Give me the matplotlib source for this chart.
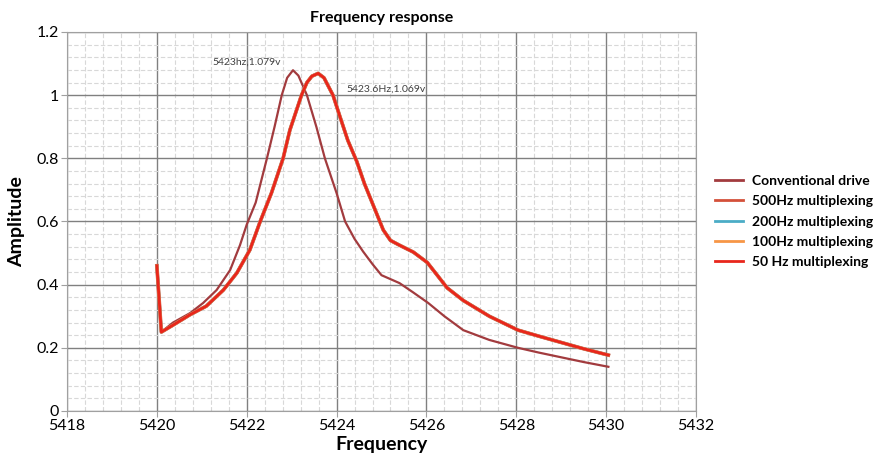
import matplotlib
matplotlib.use("Agg")
from matplotlib import pyplot as plt
from matplotlib.ticker import MultipleLocator

# conventional drive curve
conv_f = [5420.0, 5420.1, 5420.36, 5420.74, 5421.03, 5421.33, 5421.63, 5421.85, 5422.0,
          5422.2, 5422.45, 5422.62, 5422.78, 5422.9, 5423.03, 5423.15, 5423.34, 5423.55,
          5423.74, 5424.0, 5424.19, 5424.4, 5424.59, 5424.8, 5425.0, 5425.4, 5425.71,
          5426.04, 5426.4, 5426.82, 5427.4, 5428.04, 5428.5, 5429.0, 5429.5, 5430.05]
conv_a = [0.46, 0.25, 0.28, 0.31, 0.342, 0.383, 0.446, 0.525, 0.59,
          0.66, 0.80, 0.90, 1.0, 1.055, 1.079, 1.062, 1.0, 0.90,
          0.80, 0.69, 0.60, 0.545, 0.505, 0.465, 0.43, 0.405, 0.375,
          0.342, 0.30, 0.256, 0.225, 0.20, 0.185, 0.17, 0.155, 0.14]

# multiplexing curves all sit on top of each other
mux_f = [5420.0, 5420.1, 5420.36, 5420.74, 5421.1, 5421.48, 5421.78, 5422.07, 5422.3,
         5422.55, 5422.81, 5422.96, 5423.22, 5423.34, 5423.45, 5423.59, 5423.72, 5423.92,
         5424.08, 5424.25, 5424.45, 5424.62, 5424.82, 5425.04, 5425.2, 5425.4, 5425.71,
         5426.02, 5426.46, 5426.82, 5427.4, 5428.04, 5428.5, 5429.05, 5429.5, 5430.05]
mux500 = [0.46, 0.25, 0.272, 0.305, 0.332, 0.383, 0.437, 0.51, 0.60,
          0.69, 0.80, 0.889, 1.0, 1.04, 1.06, 1.069, 1.055, 1.0,
          0.93, 0.857, 0.79, 0.72, 0.65, 0.573, 0.54, 0.525, 0.503,
          0.47, 0.39, 0.35, 0.30, 0.256, 0.237, 0.215, 0.197, 0.177]
mux200 = list(mux500)
mux100 = list(mux500)
mux50 = list(mux500)

labels = ["Conventional drive", "500Hz multiplexing", "200Hz multiplexing",
          "100Hz multiplexing", "50 Hz multiplexing"]
colors = ["#A23B3E", "#D4503A", "#4BACC6", "#F79646", "#E8261C"]

plt.rcParams['font.family'] = ['Lato', 'DejaVu Sans']

fig = plt.figure(figsize=(8.79, 4.62), dpi=100)
ax = fig.add_axes([67 / 879, 51 / 462, 629 / 879, 379 / 462])

ax.plot(conv_f, conv_a, color=colors[0], lw=1.6, label=labels[0])
ax.plot(mux_f, mux500, color=colors[1], lw=2.6, label=labels[1])
ax.plot(mux_f, mux200, color=colors[2], lw=2.2, label=labels[2])
ax.plot(mux_f, mux100, color=colors[3], lw=2.2, label=labels[3])
ax.plot(mux_f, mux50, color=colors[4], lw=2.0, label=labels[4])

ax.set_xlim(5418, 5432)
ax.set_ylim(0, 1.2)
ax.xaxis.set_major_locator(MultipleLocator(2))
ax.xaxis.set_minor_locator(MultipleLocator(0.4))
ax.yaxis.set_major_locator(MultipleLocator(0.2))
ax.yaxis.set_minor_locator(MultipleLocator(0.04))
ax.set_yticks([0, 0.2, 0.4, 0.6, 0.8, 1.0, 1.2], ["0", "0.2", "0.4", "0.6", "0.8", "1", "1.2"])

ax.grid(which="major", color="#808080", lw=1.0)
ax.grid(which="minor", color="#d8d8d8", lw=0.8, ls=(0, (4, 2)))
ax.set_axisbelow(True)
for s in ax.spines.values():
    s.set_color("#a0a0a0")
ax.tick_params(which="major", length=4, color="#a0a0a0", labelsize=11.5, pad=2)
ax.tick_params(which="minor", length=0)

ax.set_title("Frequency response", fontsize=11.5, fontweight="bold", pad=7)
ax.set_xlabel("Frequency", fontsize=14, fontweight="bold", labelpad=2)
ax.set_ylabel("Amplitude", fontsize=14, fontweight="bold", labelpad=8)

ax.text(5421.23, 1.105, "5423hz,1.079v", fontsize=7.5, color="#404040", va="center")
ax.text(5424.21, 1.02, "5423.6Hz,1.069v", fontsize=7.5, color="#404040", va="center")

leg = ax.legend(loc="center left", bbox_to_anchor=(1.0, 0.5), frameon=False,
                handlelength=2.0, handletextpad=0.6, borderaxespad=1.0,
                prop={"weight": "bold", "size": 10}, labelspacing=0.6)
for line in leg.get_lines():
    line.set_linewidth(2.0)

fig.savefig("out.png", dpi=100)
